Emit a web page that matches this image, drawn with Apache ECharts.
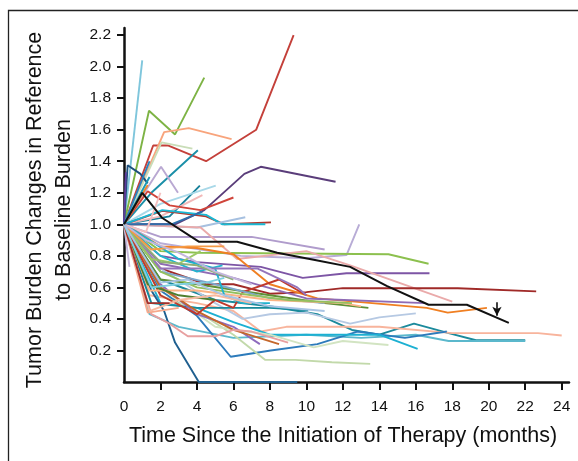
<!DOCTYPE html>
<html>
<head>
<meta charset="utf-8">
<script src="https://cdn.jsdelivr.net/npm/echarts/dist/echarts.min.js"></script>
<style>html,body{margin:0;padding:0;background:#fff}#c{width:578px;height:461px}</style>
</head>
<body>
<div id="c"></div>
<script>
// ---- data: [month, burden ratio] per patient ----
const pt01 = [[0,1],[1.0,1.2],[2.1,1.04],[4.1,0.89],[6.2,0.89],[8.4,0.82],[10.4,0.775],[12.4,0.73],[14.4,0.61],[16.7,0.49],[18.8,0.49],[21.1,0.375]];
const pt02 = [[0,1],[1.6,1.5],[2.4,1.5],[4.5,1.4],[7.25,1.6],[9.3,2.2]];
const pt03 = [[0,1],[1.0,2.04]];
const pt04 = [[0,1],[1.37,1.72],[2.8,1.57],[4.4,1.93]];
const pt05 = [[0,1],[2.2,1.585],[3.55,1.61],[5.9,1.54]];
const pt06 = [[0,1],[2.06,1.52],[3.75,1.48]];
const pt07 = [[0,1],[1.5,1.2],[4.05,1.47]];
const pt08 = [[0,1],[2.8,1.0],[4.4,1.09],[6.6,1.32],[7.5,1.365],[11.6,1.27]];
const pt09 = [[0,1],[0.2,1.375],[0.9,1.32],[1.3,1.26]];
const pt10 = [[0,1],[0.1,1.33]];
const pt11 = [[0,1],[2.03,1.365],[2.96,1.2]];
const pt12 = [[0,1],[2.5,1.05],[4.16,1.245]];
const pt13 = [[0,1],[2,1.13],[5.03,1.245]];
const pt14 = [[0,1],[2,1.05],[4.3,1.185]];
const pt15 = [[0,1],[1.3,1.21],[2.5,1.12],[4.2,1.09],[6.0,1.17]];
const pt16 = [[0,1],[2.1,1.085],[4.5,1.05],[5.5,1.0],[8.06,1.012]];
const pt17 = [[0,1],[2.1,1.09],[4.5,1.06],[5.4,1.0],[7.75,1.0]];
const pt18 = [[0,1],[4,0.98],[6.65,1.045]];
const pt19 = [[0,1],[2,0.88],[6.4,0.8],[10,0.785],[12.2,0.805],[12.9,1.0]];
const pt20 = [[0,1],[2,0.92],[7,0.92],[11,0.84]];
const pt21 = [[0,1],[2,0.83],[4.1,0.82],[14.5,0.81],[16.7,0.75]];
const pt22 = [[0,1],[2,0.8],[4,0.76],[7.5,0.73],[9.8,0.66],[12.2,0.69],[16.75,0.69]];
const pt23 = [[0,1],[4.2,0.98],[6.2,0.78],[10,0.83],[12.4,0.74],[18,0.51]];
const pt24 = [[0,1],[2,0.72],[4.5,0.62],[6,0.62],[8,0.56],[10,0.57],[12,0.595],[18.3,0.595],[22.6,0.575]];
const pt25 = [[0,1],[2,0.86],[4,0.85],[6,0.81],[8,0.62],[10.6,0.53],[16.6,0.47],[17.75,0.44],[19.9,0.47]];
const pt26 = [[0,1],[2,0.75],[6,0.66],[10,0.53],[16.5,0.5]];
const pt27 = [[0,1],[2,0.65],[5,0.52],[8,0.48],[10.6,0.43],[12.5,0.33],[14,0.3],[15.9,0.37],[17.8,0.31],[19.3,0.265],[22,0.265]];
const pt28 = [[0,1],[1.4,0.43],[3,0.35],[6,0.28],[10,0.3],[13,0.28],[16,0.3],[17.8,0.26],[22,0.26]];
const pt29 = [[0,1],[1.4,0.55],[4,0.5],[6,0.45],[7.5,0.32],[8.9,0.35],[14,0.35],[18,0.31],[22.7,0.31],[24,0.295]];
const pt30 = [[0,1],[2,0.58],[4,0.42],[5.85,0.16],[8.05,0.2],[10.6,0.24],[12.8,0.32],[15.4,0.28],[17.7,0.32]];
const pt31 = [[0,1],[2,0.5],[4,0.47],[6,0.38],[8,0.3],[10,0.3],[14,0.3],[16.1,0.21]];
const pt32 = [[0,1],[2,0.55],[4,0.45],[6,0.3],[7.75,0.14],[9.4,0.14],[11.4,0.125],[13.5,0.115]];
const pt33 = [[0,1],[2,0.6],[5,0.35],[8,0.3],[10.4,0.22],[12,0.26],[14.5,0.235]];
const pt34 = [[0,1],[1.5,0.58],[2.2,0.45],[2.8,0.25],[4.1,0],[9.5,0]];
const pt35 = [[0,1],[2,0.72],[5,0.5],[6.5,0.4],[8,0.43],[10,0.44],[12.4,0.37],[14,0.41],[16,0.435]];
const pt36 = [[0,1],[2,0.65],[4,0.62],[8,0.55],[11,0.5],[13.4,0.47]];
const pt37 = [[0,1],[1.5,0.5],[4,0.47],[8,0.47],[10.1,0.455]];
const pt38 = [[0,1],[2,0.8],[4,0.7],[5.4,0.74]];
const pt39 = [[0,1],[2,0.62],[4,0.43],[6,0.35],[7.45,0.24]];
const pt40 = [[0,1],[2,0.6],[4,0.45],[6,0.33],[8.5,0.24]];
const pt41 = [[0,1],[1.5,0.43],[2.5,0.37],[3.5,0.29],[5,0.29],[6,0.33],[7,0.32],[9,0.25]];
const pt42 = [[0,1],[2,0.55],[4,0.43],[5,0.52],[6,0.47],[6.5,0.57],[8.5,0.65],[10,0.55]];
const pt43 = [[0,1],[2,0.7],[5,0.62],[8,0.53],[11,0.5]];
const pt44 = [[0,1],[1.4,0.58],[4,0.58],[8,0.52],[12,0.5],[13,0.48]];
const pt45 = [[0,1],[2,0.7],[4,0.6],[7,0.55],[9,0.52],[12.5,0.5]];
const pt46 = [[0,1],[1.4,0.9],[3,0.78],[5,0.72],[5.5,0.55],[6.5,0.5],[8,0.5]];
const pt47 = [[0,1],[2,0.72],[4,0.72],[7.3,0.72],[9.5,0.6],[10,0.55]];
const pt48 = [[0,1],[2.6,1.0],[4.3,1.08]];
const pt49 = [[0,1],[1.3,1.25]];
const pt50 = [[0,1],[1.4,1.3]];
const pt51 = [[0,1],[1.4,1.4]];
const pt52 = [[0,1],[0.3,0.73]];
const pt53 = [[0,1],[0.5,0.78]];
const pt54 = [[0,1],[1.3,0.44],[3,0.47]];
const pt55 = [[0,1],[1.2,0.95],[2,1.2]];
const pt56 = [[0,1],[1.5,0.78],[3,0.75],[4.2,0.83]];
const pt57 = [[0,1],[2,0.76],[4,0.74],[6,0.65]];
const pt58 = [[0,1],[1.5,0.84],[3.5,0.86],[5.5,0.86]];
const pt59 = [[0,1],[1.2,0.9],[3,0.82],[5,0.7],[7,0.62]];
const pt60 = [[0,1],[1.3,0.62],[3,0.55],[5,0.52]];
const pt61 = [[0,1],[1.4,0.45],[3,0.52],[5,0.55],[7,0.5]];
const pt62 = [[0,1],[1.3,0.5],[2.5,0.5]];
const pt63 = [[0,1],[1.5,0.6],[3,0.62],[4.5,0.63],[5.5,0.66]];
const pt64 = [[0,1],[2,0.63],[3.5,0.65],[5.5,0.55],[8,0.48],[11,0.45]];

const patients = [pt01,pt02,pt03,pt04,pt05,pt06,pt07,pt08,pt09,pt10,pt11,pt12,pt13,pt14,pt15,pt16,pt17,pt18,pt19,pt20,pt21,pt22,pt23,pt24,pt25,pt26,pt27,pt28,pt29,pt30,pt31,pt32,pt33,pt34,pt35,pt36,pt37,pt38,pt39,pt40,pt41,pt42,pt43,pt44,pt45,pt46,pt47,pt48,pt49,pt50,pt51,pt52,pt53,pt54,pt55,pt56,pt57,pt58,pt59,pt60,pt61,pt62,pt63,pt64];
const colors = ['#111111','#c4403a','#7fc6dc','#7db344','#f8a47c','#c9ddb8','#1a8fa8','#5a3d7a','#1d4f7c','#5e3c99','#b9a8d2','#17819a','#a8d8e8','#f2b8b8','#d0443a','#b23a30','#1ab8d4','#a6c0e0','#b8acd6','#b09ccc','#8cc04e','#7d55a5','#eaaaaa','#a02a28','#f07f22','#8f6bb5','#1b8a9c','#5bb8cc','#f8b49c','#2d7bbb','#1cb0d2','#c2d9aa','#d2e4c2','#1f5f8f','#b6c9e3','#5f8f35','#16899b','#22b5cf','#8d6bbd','#c4672b','#e8a0a0','#c0392b','#7da6cb','#fbb385','#93c05f','#1fb2ce','#9474bb','#2f6eaa','#f08a2a','#1a9ab5','#2a84c0','#c6b8dc','#b0d4ec','#f6a98c','#f4c0c0','#9cc866','#8fae78','#f59a45','#c3b5dc','#4f7f2e','#f7b9a0','#a3302c','#7dcfe0','#a9c4e4'];
const xTicks = [0,2,4,6,8,10,12,14,16,18,20,22,24];
const yTicks = [0.2,0.4,0.6,0.8,1.0,1.2,1.4,1.6,1.8,2.0,2.2];
const arrowMonth = 20.45, arrowFrom = 0.505, arrowTo = 0.42;

const chart = echarts.init(document.getElementById('c'), null, {renderer:'canvas'});
const series = patients.map((d,i)=>({
  type:'line', data:d, showSymbol:false, symbol:'none', silent:true,
  z: 2,
  lineStyle:{color:colors[i], width:1.9}
}));
// the black reference patient carries the arrow
series[0].z = 10;
series[0].lineStyle.width = 2;
series[0].markLine = {
  silent:true, symbol:['none','arrow'], symbolSize:[7,9], label:{show:false},
  lineStyle:{color:'#111', width:1.6, type:'solid'},
  data:[[{coord:[arrowMonth,arrowFrom]},{coord:[arrowMonth,arrowTo]}]]
};

chart.setOption({
  animation:false,
  backgroundColor:'#fff',
  graphic:[{type:'rect', shape:{x:8.5,y:10.5,width:640,height:520}, style:{fill:'none', stroke:'#222', lineWidth:1.3}, z:-1}],
  grid:{left:124, right:9, top:28, bottom:79, containLabel:false},
  xAxis:{
    type:'value', min:0, max:24.4,
    name:'Time Since the Initiation of Therapy (months)', nameLocation:'middle', nameGap:43,
    nameTextStyle:{fontFamily:'Liberation Sans', fontSize:21.5, color:'#111', padding:[0,7,0,0]},
    axisLine:{lineStyle:{color:'#111', width:2.5}},
    axisTick:{show:true, customValues:xTicks.filter(v=>v>0), length:8, lineStyle:{color:'#111', width:2}},
    axisLabel:{customValues:xTicks, margin:17, fontFamily:'Liberation Sans', fontSize:15.5, color:'#111'},
    splitLine:{show:false}
  },
  yAxis:{
    type:'value', min:0, max:2.245,
    name:'Tumor Burden Changes in Reference\nto Baseline Burden', nameLocation:'middle', nameGap:40,
    nameTextStyle:{fontFamily:'Liberation Sans', fontSize:21.5, lineHeight:29, color:'#111', align:'center', padding:[0,10,0,0]},
    axisLine:{lineStyle:{color:'#111', width:2.5}},
    axisTick:{show:true, customValues:yTicks, length:7, lineStyle:{color:'#111', width:2}},
    axisLabel:{customValues:yTicks, margin:13, fontFamily:'Liberation Sans', fontSize:15.5, color:'#111', formatter:v=>v.toFixed(1)},
    splitLine:{show:false}
  },
  series:series
});
</script>
</body>
</html>
